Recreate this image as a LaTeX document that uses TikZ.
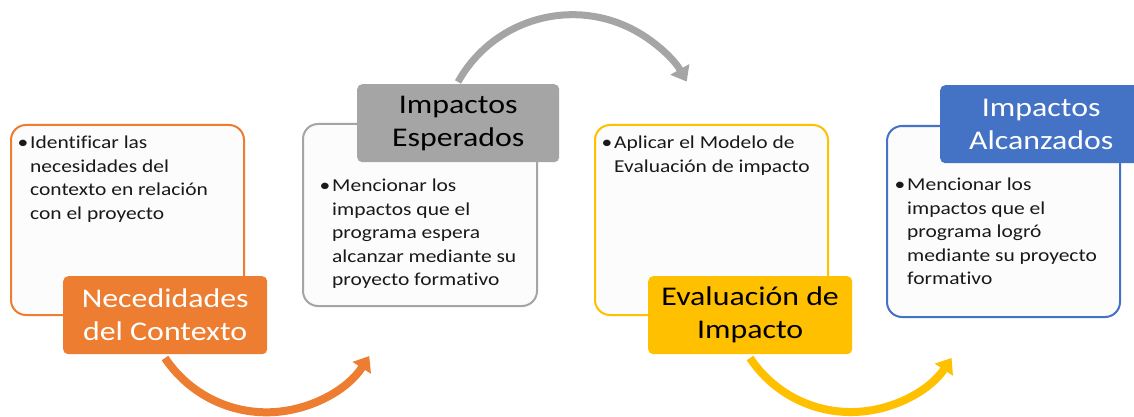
\documentclass[tikz,border=0pt]{standalone}
\usepackage{fontspec}
\setmainfont{Carlito}[FakeStretch=1.18,Ligatures=NoCommon]
\usetikzlibrary{arrows.meta}
\definecolor{cOr}{HTML}{ED7D31}
\definecolor{cGr}{HTML}{A5A5A5}
\definecolor{cYe}{HTML}{FFC000}
\definecolor{cBl}{HTML}{4472C4}
\definecolor{cFill}{HTML}{FCFCFC}
\begin{document}
\begin{tikzpicture}[x=1pt,y=-1pt,
  panel/.style={draw, line width=2pt, rounded corners=15pt, fill=cFill, anchor=north west, inner sep=0pt},
  label/.style={rounded corners=5pt, anchor=north west, inner sep=0pt, align=center,
     font=\fontsize{27}{33}\selectfont},
  bullettext/.style={anchor=north west, inner sep=0pt, align=left, text=black!90,
     font=\fontsize{18.2}{23.5}\selectfont},
  flow/.style={line width=8pt, -{Triangle[width=21pt,length=14pt]}}
]
\clip (0,0) rectangle (1134,417);
\fill[white] (0,0) rectangle (1134,417);

% panels
\node[panel, draw=cOr, minimum width=233pt, minimum height=190pt] (box1) at (10,124) {};
\node[panel, draw=cGr, minimum width=234pt, minimum height=182pt] (box2) at (302,123) {};
\node[panel, draw=cYe, minimum width=233pt, minimum height=190pt] (box3) at (594,124) {};
\node[panel, draw=cBl, minimum width=233pt, minimum height=191pt] (box4) at (886,125) {};

% bullet texts
\node[bullettext] (txt1) at (30,136) {\llap{\textbullet\hspace{2pt}}Identificar las\\necesidades del\\contexto en relación\\con el proyecto};
\node[bullettext] (txt2) at (332,179) {\llap{\textbullet\hspace{2pt}}Mencionar los\\impactos que el\\programa espera\\alcanzar mediante su\\proyecto formativo};
\node[bullettext] (txt3) at (614,136) {\llap{\textbullet\hspace{2pt}}Aplicar el Modelo de\\Evaluación de impacto};
\node[bullettext] (txt4) at (907,178) {\llap{\textbullet\hspace{2pt}}Mencionar los\\impactos que el\\programa logró\\mediante su proyecto\\formativo};

% labels
\node[label, fill=cOr, text=white, minimum width=204pt, minimum height=78pt] (lab1) at (63,276) {Necedidades\\del Contexto};
\node[label, fill=cGr, text=black, minimum width=202pt, minimum height=78pt] (lab2) at (357,84) {Impactos\\Esperados};
\node[label, fill=cYe, text=black, minimum width=204pt, minimum height=78pt] (lab3) at (648,276) {Evaluación de\\Impacto};
\node[label, fill=cBl, text=white, minimum width=202pt, minimum height=78pt] (lab4) at (940,85) {Impactos\\Alcanzados};

% flow arrows
\coordinate (a1s) at (165,358);
\coordinate (a2s) at (458,82);
\coordinate (a3s) at (750,358);
\draw[flow, draw=cOr] (a1s) arc[start angle=-213.7, end angle=-327.4, radius=122];
\draw[flow, draw=cGr, line width=7pt] (a2s) arc[start angle=-150.9, end angle=-29.3, radius=131];
\draw[flow, draw=cYe] (a3s) arc[start angle=-213.6, end angle=-326.4, radius=121];
\end{tikzpicture}
\end{document}
